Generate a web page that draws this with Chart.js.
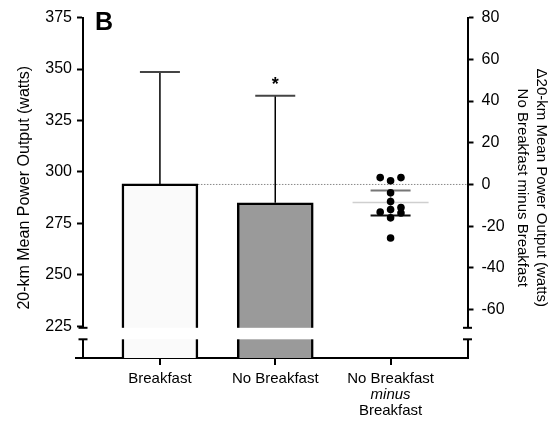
<!DOCTYPE html>
<html>
<head>
<meta charset="utf-8">
<script src="https://cdn.jsdelivr.net/npm/chart.js@4"></script>
<style>
  body { margin: 0; background: #fff; }
  #wrap { width: 554px; height: 427px; }
</style>
</head>
<body>
<div id="wrap"><canvas id="myChart"></canvas></div>
<script>
let categories = ['Breakfast', 'No Breakfast', 'No Breakfast minus Breakfast'];
let barMeans = [294.2, 285.0];
let barSD = [54.4, 52.0];
let diffValues = [3.3, 1.8, 3.3, -4.0, -8.2, -12.0, -11.1, -13.7, -13.2, -16.0, -25.7];
let diffColumn = [-1, 0, 1, 0, 0, 0, 1, 1, -1, 0, 0];
let diffMean = -8.6;
let diffCI = [-14.9, -2.9];
let leftTicks = [225, 250, 275, 300, 325, 350, 375];
let rightTicks = [-60, -40, -20, 0, 20, 40, 60, 80];

Chart.defaults.font.family = '"Liberation Sans", Arial, sans-serif';
Chart.defaults.color = '#000';

const BAR_W = 76;
const CAP_W = 40;
const X_PAD = 12.5;
const X_LH = 16.2;

function seg(ctx, x1, y1, x2, y2, color, w) {
    ctx.strokeStyle = color;
    ctx.lineWidth = w;
    ctx.beginPath();
    ctx.moveTo(x1, y1);
    ctx.lineTo(x2, y2);
    ctx.stroke();
}

const decor = {
    id: 'decor',
    beforeDatasetsDraw(chart) {
        const ctx = chart.ctx, x = chart.scales.x, y = chart.scales.y, y1 = chart.scales.y1;
        ctx.save();
        // dotted zero line (difference axis)
        ctx.setLineDash([1.5, 1.5]);
        seg(ctx, x.getPixelForValue(0) + BAR_W / 2, y1.getPixelForValue(0), chart.chartArea.right, y1.getPixelForValue(0), '#888', 1);
        ctx.setLineDash([]);
        // SD error bars on the two bars
        barMeans.forEach((m, i) => {
            const cx = x.getPixelForValue(i);
            const top = y.getPixelForValue(m + barSD[i]);
            seg(ctx, cx, y.getPixelForValue(m), cx, top, '#000', 1.5);
            seg(ctx, cx - CAP_W / 2, top, cx + CAP_W / 2, top, '#444', 2);
        });
        // mean + CI for differences
        const dx = x.getPixelForValue(2);
        const yMean = y1.getPixelForValue(diffMean);
        seg(ctx, dx - BAR_W / 2, yMean, dx + BAR_W / 2, yMean, '#cfcfcf', 1.5);
        const lo = y1.getPixelForValue(diffCI[0]), hi = y1.getPixelForValue(diffCI[1]);
        seg(ctx, dx, lo, dx, hi, '#888', 1.5);
        seg(ctx, dx - CAP_W / 2, hi, dx + CAP_W / 2, hi, '#777', 2);
        seg(ctx, dx - CAP_W / 2, lo, dx + CAP_W / 2, lo, '#111', 2);
        ctx.restore();
    },
    afterDatasetsDraw(chart) {
        const ctx = chart.ctx, x = chart.scales.x, y = chart.scales.y;
        const area = chart.chartArea;
        ctx.save();
        // axis break
        const gTop = y.getPixelForValue(225) + 1.5;
        const gBot = gTop + 11.5;
        ctx.fillStyle = '#fff';
        ctx.fillRect(74, gTop, 398, gBot - gTop);
        [area.left, area.right].forEach(ax => {
            seg(ctx, ax - 4.5, gTop, ax + 4.5, gTop, '#000', 2);
            seg(ctx, ax - 4.5, gBot, ax + 4.5, gBot, '#000', 2);
        });
        // bottom axis overhang on the left, category tick marks
        seg(ctx, area.left - 8, area.bottom, area.left, area.bottom, '#000', 2);
        categories.forEach((c, i) => {
            const px = Math.round(x.getPixelForValue(i));
            seg(ctx, px, area.bottom, px, area.bottom + 7, '#000', 2);
        });
        // significance star
        const nb = x.getPixelForValue(1);
        ctx.fillStyle = '#000';
        ctx.textAlign = 'center';
        ctx.textBaseline = 'middle';
        ctx.font = 'bold 18px "Liberation Sans", Arial, sans-serif';
        ctx.fillText('*', nb, y.getPixelForValue(barMeans[1] + barSD[1]) - 11);
        // italic middle line of third label
        ctx.font = 'italic 15px "Liberation Sans", Arial, sans-serif';
        ctx.fillText('minus', x.getPixelForValue(2), area.bottom + X_PAD + X_LH * 1.5);
        // panel letter
        ctx.textAlign = 'left';
        ctx.textBaseline = 'alphabetic';
        ctx.font = 'bold 25px "Liberation Sans", Arial, sans-serif';
        ctx.fillText('B', 95, 30);
        ctx.restore();
    }
};

const xLabels = [['Breakfast'], ['No Breakfast'], ['No Breakfast', '', 'Breakfast']];

var ctx = document.getElementById('myChart').getContext('2d');
var chart = new Chart(ctx, {
    type: 'bar',
    data: {
        datasets: [
            {
                type: 'bar',
                data: barMeans.map((m, i) => ({x: i, y: m})),
                backgroundColor: ['#fafafa', '#9a9a9a'],
                borderColor: '#000',
                borderWidth: 2.5,
                barThickness: BAR_W,
                xAxisID: 'x',
                yAxisID: 'y'
            },
            {
                type: 'scatter',
                data: diffValues.map((v, i) => ({x: 2 + diffColumn[i] * 0.09, y: v})),
                backgroundColor: '#000',
                borderWidth: 0,
                pointRadius: 3.8,
                xAxisID: 'x',
                yAxisID: 'y1'
            }
        ]
    },
    options: {
        responsive: true,
        maintainAspectRatio: false,
        animation: false,
        layout: { padding: { top: 15, left: 0, right: 0, bottom: 0 } },
        plugins: { legend: { display: false }, tooltip: { enabled: false } },
        scales: {
            x: {
                type: 'linear',
                min: -0.667,
                max: 2.667,
                offset: false,
                afterBuildTicks: s => { s.ticks = categories.map((c, i) => ({value: i})); },
                afterFit: s => { s.height = 69; },
                grid: { display: false, drawTicks: false },
                border: { display: true, color: '#000', width: 2 },
                ticks: {
                    callback: (v) => xLabels[Math.round(v)],
                    font: { size: 15, lineHeight: X_LH / 15 },
                    padding: X_PAD,
                    maxRotation: 0,
                    autoSkip: false
                }
            },
            y: {
                position: 'left',
                min: 209.6,
                max: 375,
                beginAtZero: false,
                afterBuildTicks: s => { s.ticks = leftTicks.map(v => ({value: v})); },
                afterFit: s => { s.width = 83; },
                grid: { drawOnChartArea: false, drawTicks: true, tickLength: 6, tickWidth: 2, tickColor: '#000' },
                border: { color: '#000', width: 2 },
                ticks: { font: { size: 16 }, padding: 5 },
                title: {
                    display: true,
                    text: '20-km Mean Power Output (watts)',
                    font: { size: 16 },
                    padding: { top: 15, bottom: 0 }
                }
            },
            y1: {
                position: 'right',
                min: -83.2,
                max: 80,
                beginAtZero: false,
                afterBuildTicks: s => { s.ticks = rightTicks.map(v => ({value: v})); },
                afterFit: s => { s.width = 86.5; },
                grid: { drawOnChartArea: false, drawTicks: true, tickLength: 6, tickWidth: 2, tickColor: '#000' },
                border: { color: '#000', width: 2 },
                ticks: { font: { size: 16 }, padding: 8 },
                title: {
                    display: true,
                    text: ['\u039420-km Mean Power Output (watts)', 'No Breakfast minus Breakfast'],
                    font: { size: 15, lineHeight: 1.27 },
                    padding: { top: 3, bottom: 0 }
                }
            }
        }
    },
    plugins: [decor]
});
</script>
</body>
</html>
